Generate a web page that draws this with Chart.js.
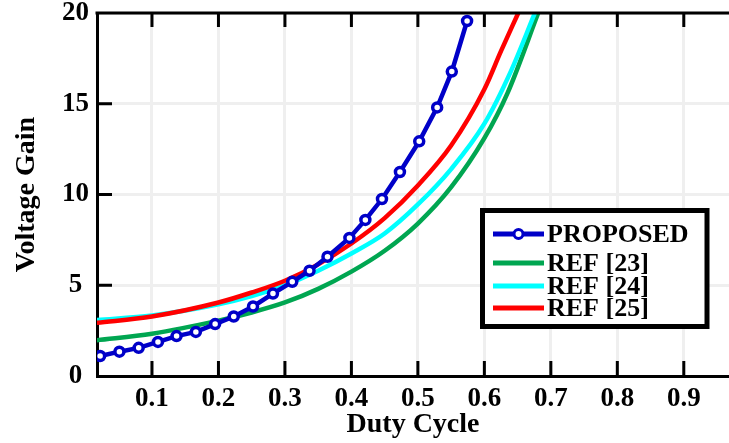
<!DOCTYPE html>
<html>
<head>
<meta charset="utf-8">
<script src="https://cdn.jsdelivr.net/npm/chart.js@4.4.1/dist/chart.umd.min.js"></script>
<style>
    html, body { margin: 0; padding: 0; background: #ffffff; }
    #wrap { width: 729px; height: 443px; }
</style>
</head>
<body>
<div id="wrap"><canvas id="gainChart" width="729" height="443"></canvas></div>
<script>
// duty cycle / voltage gain readings for each converter
const dutyProposed = [0.022, 0.051, 0.080, 0.109, 0.137, 0.166, 0.195, 0.223, 0.252, 0.282, 0.311,
    0.337, 0.364, 0.397, 0.421, 0.446, 0.473, 0.502, 0.529, 0.551, 0.574];
const gainProposed = [1.10, 1.34, 1.55, 1.88, 2.20, 2.43, 2.86, 3.28, 3.83, 4.54, 5.19,
    5.80, 6.57, 7.61, 8.60, 9.75, 11.24, 12.93, 14.80, 16.77, 19.56];

const dutyRef23 = [0.017, 0.1, 0.2, 0.25, 0.3, 0.35, 0.4, 0.45, 0.5, 0.55, 0.6, 0.635, 0.681];
const gainRef23 = [1.97, 2.33, 3.05, 3.5, 4.05, 4.8, 5.75, 6.9, 8.4, 10.4, 13.1, 15.6, 20];

const dutyRef24 = [0.017, 0.1, 0.2, 0.25, 0.3, 0.35, 0.4, 0.45, 0.5, 0.55, 0.6, 0.64, 0.676];
const gainRef24 = [3.08, 3.33, 3.95, 4.4, 5.0, 5.8, 6.75, 7.85, 9.45, 11.4, 13.9, 16.8, 20];

const dutyRef25 = [0.017, 0.1, 0.2, 0.25, 0.3, 0.35, 0.4, 0.45, 0.5, 0.55, 0.6, 0.625, 0.651];
const gainRef25 = [2.93, 3.28, 4.05, 4.6, 5.25, 6.15, 7.3, 8.7, 10.5, 12.7, 15.8, 17.9, 20];

const seriesLabels = ["PROPOSED", "REF [23]", "REF [24]", "REF [25]"];
const seriesColors = ["#0000c8", "#00a651", "#00ffff", "#ff0000"];

const xTickValues = [0.1, 0.2, 0.3, 0.4, 0.5, 0.6, 0.7, 0.8, 0.9];
const yTickValues = [0, 5, 10, 15, 20];

const serifFont = "'Liberation Serif', 'Times New Roman', serif";

function toPoints(xs, ys) {
    return xs.map((x, i) => ({ x: x, y: ys[i] }));
}

///* frame on top and inward tick marks */
const framePlugin = {
    id: "frame",
    afterDatasetsDraw(chart) {
        const ctx = chart.ctx;
        const area = chart.chartArea;
        const xScale = chart.scales.x;
        const yScale = chart.scales.y;
        ctx.save();
        ctx.strokeStyle = "#000000";
        ctx.lineWidth = 3;
        ctx.beginPath();
        ctx.moveTo(area.left - 1.5, area.top);
        ctx.lineTo(area.right + 2, area.top);
        ctx.stroke();

        ctx.beginPath();
        xTickValues.forEach(v => {
            const px = xScale.getPixelForValue(v);
            ctx.moveTo(px, area.bottom);
            ctx.lineTo(px, area.bottom - 15);
            ctx.moveTo(px, area.top);
            ctx.lineTo(px, area.top + 14);
        });
        yTickValues.slice(1, -1).forEach(v => {
            const py = yScale.getPixelForValue(v);
            ctx.moveTo(area.left, py);
            ctx.lineTo(area.left + 15, py);
        });
        ctx.stroke();
        ctx.restore();
    }
};

///* boxed legend inside the plot */
const boxLegendPlugin = {
    id: "boxLegend",
    afterDraw(chart) {
        const ctx = chart.ctx;
        const rows = [234, 263, 286, 308];
        ctx.save();
        ctx.fillStyle = "#ffffff";
        ctx.fillRect(482.5, 210.5, 224.5, 116);
        ctx.strokeStyle = "#000000";
        ctx.lineWidth = 5;
        ctx.strokeRect(482.5, 210.5, 224.5, 116);

        rows.forEach((y, i) => {
            ctx.strokeStyle = seriesColors[i];
            ctx.lineWidth = 5;
            ctx.beginPath();
            ctx.moveTo(493, y);
            ctx.lineTo(544, y);
            ctx.stroke();
            if (i === 0) {
                ctx.beginPath();
                ctx.arc(518.5, y, 4.5, 0, Math.PI * 2);
                ctx.fillStyle = "#ffffff";
                ctx.fill();
                ctx.lineWidth = 3;
                ctx.stroke();
            }
            ctx.fillStyle = "#000000";
            ctx.font = "bold 26px " + serifFont;
            ctx.textBaseline = "middle";
            ctx.textAlign = "left";
            ctx.fillText(seriesLabels[i], 547, y + 1);
        });
        ctx.restore();
    }
};

const canvas = document.getElementById("gainChart");

new Chart(canvas, {
    type: "line",
    data: {
        datasets: [
            {
                label: seriesLabels[0],
                data: toPoints(dutyProposed, gainProposed),
                borderColor: seriesColors[0],
                backgroundColor: "#ffffff",
                borderWidth: 4.5,
                pointRadius: 4.5,
                pointBorderWidth: 3.5,
                pointBorderColor: seriesColors[0],
                pointBackgroundColor: "#ffffff",
                tension: 0,
                order: 0
            },
            {
                label: seriesLabels[1],
                data: toPoints(dutyRef23, gainRef23),
                borderColor: seriesColors[1],
                borderWidth: 4.5,
                pointRadius: 0,
                cubicInterpolationMode: "monotone",
                order: 3
            },
            {
                label: seriesLabels[2],
                data: toPoints(dutyRef24, gainRef24),
                borderColor: seriesColors[2],
                borderWidth: 4.5,
                pointRadius: 0,
                cubicInterpolationMode: "monotone",
                order: 2
            },
            {
                label: seriesLabels[3],
                data: toPoints(dutyRef25, gainRef25),
                borderColor: seriesColors[3],
                borderWidth: 4.5,
                pointRadius: 0,
                cubicInterpolationMode: "monotone",
                order: 1
            }
        ]
    },
    options: {
        responsive: false,
        animation: false,
        layout: { autoPadding: false, padding: { top: 13, right: 0, bottom: 0, left: 0 } },
        plugins: {
            legend: { display: false },
            tooltip: { enabled: false }
        },
        scales: {
            x: {
                type: "linear",
                min: 0.0173,
                max: 0.968,
                afterBuildTicks: scale => {
                    scale.ticks = xTickValues.map(v => ({ value: v }));
                },
                afterFit: scale => {
                    scale.height = 67;
                    scale.paddingLeft = 0;
                    scale.paddingRight = 0;
                },
                grid: { color: "#efefef", lineWidth: 3, drawTicks: false },
                border: { color: "#000000", width: 3 },
                ticks: {
                    padding: 7,
                    color: "#000000",
                    font: { family: serifFont, size: 27, weight: "bold" },
                    callback: v => String(v)
                },
                title: {
                    display: true,
                    text: "Duty Cycle",
                    color: "#000000",
                    font: { family: serifFont, size: 28, weight: "bold" },
                    padding: { top: 0, bottom: 1 }
                }
            },
            y: {
                min: 0,
                max: 20,
                afterBuildTicks: scale => {
                    scale.ticks = yTickValues.map(v => ({ value: v }));
                },
                afterFit: scale => {
                    scale.width = 97;
                    scale.paddingTop = 0;
                    scale.paddingBottom = 0;
                },
                grid: { color: "#efefef", lineWidth: 3, drawTicks: false },
                border: { color: "#000000", width: 3 },
                ticks: {
                    padding: 8,
                    crossAlign: "center",
                    color: "#000000",
                    font: { family: serifFont, size: 27, weight: "bold" }
                },
                title: {
                    display: true,
                    text: "Voltage Gain",
                    color: "#000000",
                    font: { family: serifFont, size: 28, weight: "bold" },
                    padding: { top: 10, bottom: 0 }
                }
            }
        }
    },
    plugins: [framePlugin, boxLegendPlugin]
});
</script>
</body>
</html>
